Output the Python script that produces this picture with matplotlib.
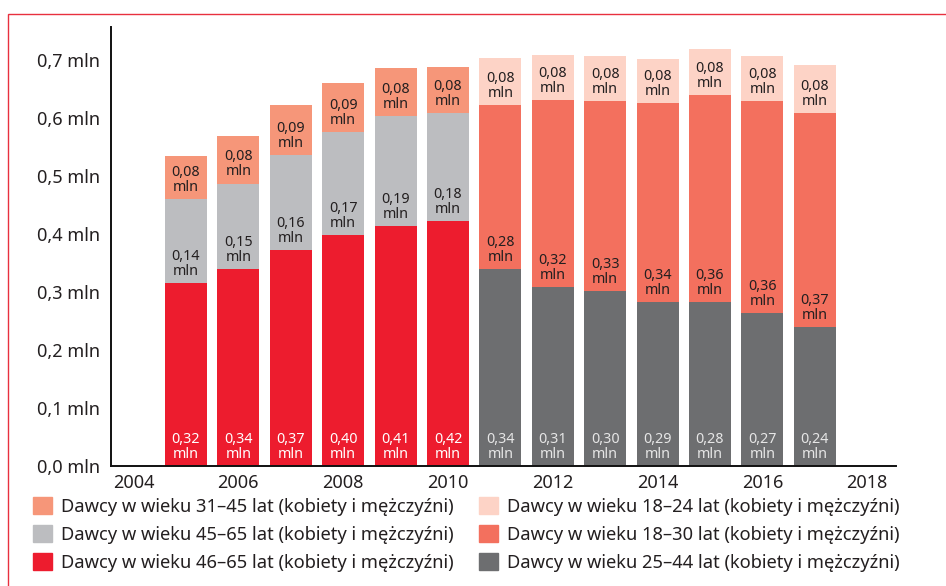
import matplotlib.pyplot as plt
from matplotlib.patches import Rectangle, Patch

plt.rcParams['font.family'] = ['Noto Sans', 'DejaVu Sans']

# 2005-2010: three age groups
years_a = [2005, 2006, 2007, 2008, 2009, 2010]
age46_65 = [0.315, 0.339, 0.372, 0.398, 0.413, 0.422]
age45_65 = [0.145, 0.148, 0.164, 0.178, 0.190, 0.186]
age31_45 = [0.074, 0.082, 0.086, 0.084, 0.083, 0.080]
lab46_65 = ['0,32', '0,34', '0,37', '0,40', '0,41', '0,42']
lab45_65 = ['0,14', '0,15', '0,16', '0,17', '0,19', '0,18']
lab31_45 = ['0,08', '0,08', '0,09', '0,09', '0,08', '0,08']

# 2011-2017: new age groups
years_b = [2011, 2012, 2013, 2014, 2015, 2016, 2017]
age25_44 = [0.339, 0.308, 0.301, 0.283, 0.283, 0.264, 0.240]
age18_30 = [0.283, 0.323, 0.328, 0.343, 0.356, 0.365, 0.368]
age18_24 = [0.081, 0.078, 0.078, 0.076, 0.080, 0.078, 0.083]
lab25_44 = ['0,34', '0,31', '0,30', '0,29', '0,28', '0,27', '0,24']
lab18_30 = ['0,28', '0,32', '0,33', '0,34', '0,36', '0,36', '0,37']
lab18_24 = ['0,08', '0,08', '0,08', '0,08', '0,08', '0,08', '0,08']

xticks = [2004, 2006, 2008, 2010, 2012, 2014, 2016, 2018]
yticks = [0.0, 0.1, 0.2, 0.3, 0.4, 0.5, 0.6, 0.7]

c_red = '#ED1C2E'
c_lgrey = '#BCBDC0'
c_salmon = '#F69679'
c_light = '#FDD3C6'
c_orange = '#F3705E'
c_dgrey = '#6D6E70'
c_text = '#231F20'

fig = plt.figure(figsize=(9.46, 5.86), dpi=100)
ax = fig.add_axes([111 / 946, 1 - 466 / 586, (896 - 111) / 946, (466 - 27) / 586])

W = 0.8
OFF = 0.033


def stack(years, segs, colors, labels, txtcolors):
    bottom = [0.0] * len(years)
    for vals, col, labs, tc in zip(segs, colors, labels, txtcolors):
        ax.bar(years, vals, W, bottom=bottom, color=col, linewidth=0)
        for x, b, s in zip(years, bottom, labs):
            ax.text(x, b + OFF, s + '\nmln', ha='center', va='center',
                    fontsize=10.3, color=tc, linespacing=1.0)
        bottom = [b + v for b, v in zip(bottom, vals)]


stack(years_a, [age46_65, age45_65, age31_45], [c_red, c_lgrey, c_salmon],
      [lab46_65, lab45_65, lab31_45], ['white', c_text, c_text])
stack(years_b, [age25_44, age18_30, age18_24], [c_dgrey, c_orange, c_light],
      [lab25_44, lab18_30, lab18_24], ['#E6E6E6', c_text, c_text])

ax.set_xlim(2003.57, 2018.55)
ax.set_ylim(0, 0.757)
ax.set_xticks(xticks)
ax.set_xticklabels([str(y) for y in xticks])
ax.set_yticks(yticks)
ax.set_yticklabels([f'{v:.1f} mln'.replace('.', ',') for v in yticks])
ax.tick_params(axis='both', length=0, labelsize=13, colors=c_text)
ax.tick_params(axis='y', pad=8)
ax.tick_params(axis='x', pad=6)
for s in ['top', 'right']:
    ax.spines[s].set_visible(False)
for s in ['left', 'bottom']:
    ax.spines[s].set_linewidth(1.4)
    ax.spines[s].set_color('#111111')

h1 = [Patch(color=c_salmon, label='Dawcy w wieku 31–45 lat (kobiety i mężczyźni)'),
      Patch(color=c_lgrey, label='Dawcy w wieku 45–65 lat (kobiety i mężczyźni)'),
      Patch(color=c_red, label='Dawcy w wieku 46–65 lat (kobiety i mężczyźni)')]
h2 = [Patch(color=c_light, label='Dawcy w wieku 18–24 lat (kobiety i mężczyźni)'),
      Patch(color=c_orange, label='Dawcy w wieku 18–30 lat (kobiety i mężczyźni)'),
      Patch(color=c_dgrey, label='Dawcy w wieku 25–44 lat (kobiety i mężczyźni)')]
for hs, x0 in [(h1, 33), (h2, 479)]:
    fig.legend(handles=hs, loc='upper left', bbox_to_anchor=(x0 / 946, 1 - 497 / 586),
               frameon=False, fontsize=13.2, borderpad=0, borderaxespad=0,
               handlelength=1.05, handleheight=1.05, handletextpad=0.5,
               labelspacing=0.5, labelcolor=c_text)

# red frame around the chart (cut off on the right and bottom)
fig.add_artist(Rectangle((8 / 946, -0.1), 1.2, 1.1 - 14 / 586, transform=fig.transFigure,
                         fill=False, edgecolor='#E8303F', linewidth=1.0))

fig.savefig('out.png', dpi=100)
